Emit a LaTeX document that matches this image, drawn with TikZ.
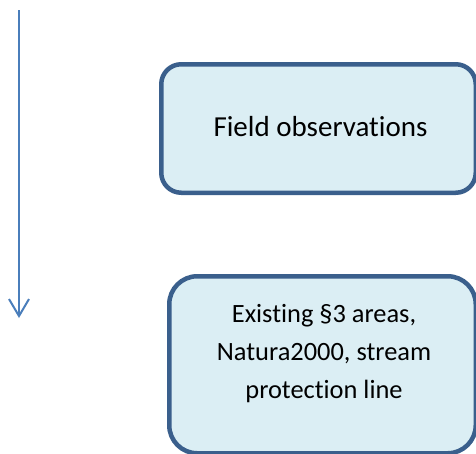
\documentclass[tikz,border=0pt]{standalone}
\usepackage{fontspec}
\setmainfont{Carlito}[Ligatures={NoCommon,NoContextual}]
\usetikzlibrary{arrows.meta}
\definecolor{boxfill}{HTML}{DBEEF4}
\definecolor{boxline}{HTML}{3A5F8C}
\definecolor{arrowblue}{HTML}{4A7EBB}
\tikzset{
  stagebox/.style={draw=boxline, fill=boxfill, line width=4.5pt,
    rectangle, inner sep=0pt},
  timeline/.style={draw=arrowblue, line width=2pt,
    -{Straight Barb[length=17pt,width=20pt,line width=2pt]}},
  boxtext/.style={align=center, inner sep=0pt, text=black}
}
\begin{document}
\begin{tikzpicture}[x=1pt,y=-1pt]
  \useasboundingbox (0,0) rectangle (476,453);
  \clip (0,0) rectangle (476,453);

  % vertical time arrow on the left
  \coordinate (arrowtop) at (19,10);
  \coordinate (arrowtip) at (19,318);
  \path[timeline] (arrowtop) -- (arrowtip);

  % upper box
  \node[stagebox, minimum width=314.5pt, minimum height=128.5pt,
        rounded corners=20pt] (field) at (318.5,128.5) {};
  \node[boxtext, font=\fontsize{29}{35}\selectfont] (fieldtext)
        at (320.5,126.5) {Field observations};

  % lower box, running past the lower edge
  \node[stagebox, minimum width=306.5pt, minimum height=177pt,
        rounded corners=28pt] (existing) at (322.5,364.75) {};
  \node[boxtext, font=\fontsize{26.4}{38}\selectfont] (existingtext)
        at (324,353.5) {Existing §3 areas,\\Natura2000, stream\\protection line};
\end{tikzpicture}
\end{document}
